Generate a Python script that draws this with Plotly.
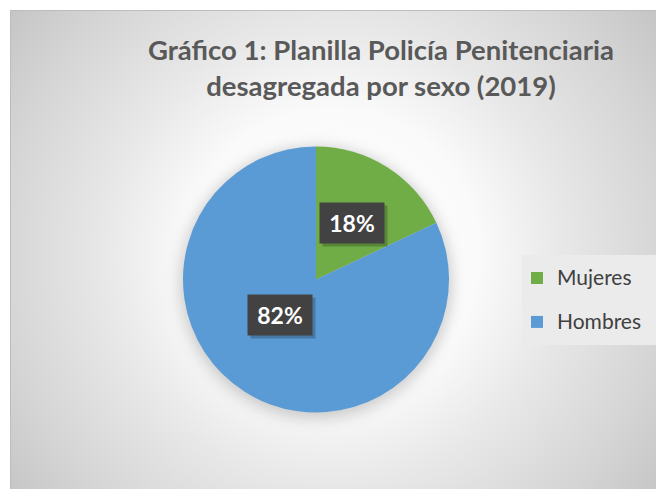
import base64
import math
import plotly.graph_objects as go

# ---- data ----
labels = ["Mujeres", "Hombres"]
values = [18, 82]
colors = ["#70AD47", "#5B9BD5"]
title_text = "Gráfico 1: Planilla Policía Penitenciaria<br>desagregada por sexo (2019)"

# ---- layout constants (pixels) ----
W, H = 656, 489
CX, CY, R = 316, 279.5, 133

def px_x(x):
    return x / W

def px_y(y):
    return 1 - y / H

svg = f'''<svg xmlns="http://www.w3.org/2000/svg" width="{W}" height="{H}" viewBox="0 0 {W} {H}">
<defs>
<radialGradient id="g" gradientUnits="userSpaceOnUse" cx="333" cy="255" r="415">
<stop offset="0" stop-color="#ffffff"/>
<stop offset="0.35" stop-color="#fafafa"/>
<stop offset="0.55" stop-color="#e8e8e8"/>
<stop offset="0.8" stop-color="#d5d5d5"/>
<stop offset="1" stop-color="#c3c3c3"/>
</radialGradient>
<filter id="b" x="-50%" y="-50%" width="200%" height="200%"><feGaussianBlur stdDeviation="7"/></filter>
</defs>
<rect width="{W}" height="{H}" fill="#ffffff"/>
<rect x="10.5" y="10.5" width="{W}" height="{H}" fill="url(#g)" stroke="#bdbdbd"/>
<circle cx="{CX}" cy="{CY + 3}" r="{R + 3}" fill="#000" fill-opacity="0.18" filter="url(#b)"/>
</svg>'''
bg_src = "data:image/svg+xml;base64," + base64.b64encode(svg.encode()).decode()

fig = go.Figure()
fig.add_trace(go.Pie(
    labels=[f'<span style="font-size:21px;baseline-shift:5px">{l}</span>' for l in labels],
    values=values,
    marker=dict(colors=colors, line=dict(width=0)),
    sort=False,
    direction="clockwise",
    rotation=0,
    textinfo="none",
    hoverinfo="skip",
    domain=dict(x=[px_x(CX - R), px_x(CX + R)], y=[px_y(CY + R), px_y(CY - R)]),
))

total = sum(values)
annotations = []
cum = 0
for v in values:
    th = 2 * math.pi * (cum + v / 2) / total
    cum += v
    xp = CX + 0.5 * R * math.sin(th)
    yp = CY - 0.5 * R * math.cos(th)
    # shadow
    annotations.append(dict(
        x=px_x(xp + 3), y=px_y(yp + 3), xref="paper", yref="paper",
        text=" ", showarrow=False, width=62, height=38, borderpad=1,
        bgcolor="rgba(0,0,0,0.22)", font=dict(size=22),
    ))
    annotations.append(dict(
        x=px_x(xp), y=px_y(yp), xref="paper", yref="paper",
        text=f"<b>{round(100 * v / total)}%</b>", showarrow=False,
        width=62, height=38, borderpad=1, bgcolor="#424242",
        font=dict(family="Lato", size=23, color="#ffffff"),
    ))

fig.update_layout(
    width=W, height=H,
    margin=dict(l=0, r=0, t=0, b=0),
    paper_bgcolor="#ffffff",
    images=[dict(source=bg_src, xref="paper", yref="paper", x=0, y=1,
                 sizex=1, sizey=1, sizing="stretch", xanchor="left",
                 yanchor="top", layer="below")],
    title=dict(text=f"<b>{title_text}</b>", x=381 / W, xanchor="center",
               y=px_y(60), yanchor="middle",
               font=dict(family="Lato", size=27.5, color="#595959")),
    showlegend=True,
    legend=dict(x=px_x(517), y=px_y(300), xanchor="left", yanchor="middle",
                bgcolor="rgba(0,0,0,0)",
                font=dict(family="Lato", size=31.5, color="#404040")),
    shapes=[dict(type="rect", xref="paper", yref="paper",
                 x0=px_x(522), x1=1.0, y0=px_y(345), y1=px_y(255),
                 fillcolor="#ebebeb", line=dict(width=0), layer="below")],
    annotations=annotations,
)

fig.write_html("out.html")
